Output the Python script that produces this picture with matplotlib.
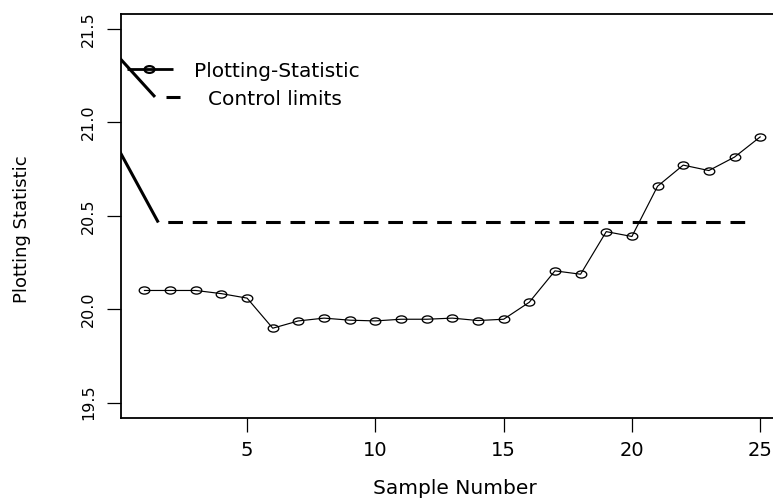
import numpy as np
import matplotlib
matplotlib.use("Agg")
import matplotlib.pyplot as plt
from matplotlib.path import Path
from matplotlib.transforms import Affine2D

# Данные графика
sample = list(range(1, 26))
stat = [20.100, 20.100, 20.100, 20.083, 20.059, 19.898, 19.937, 19.952, 19.941, 19.937,
        19.946, 19.946, 19.952, 19.939, 19.946, 20.037, 20.205, 20.187, 20.415, 20.389,
        20.658, 20.771, 20.742, 20.814, 20.922]

# Контрольные границы
limit_x = [1.54, 24.5]
limit_y = [20.464, 20.464]
start_x = [0.0, 1.54]
start_y = [20.853, 20.464]
upper_x = [0.0, 1.41]
upper_y = [21.349, 21.136]

xticks = [5, 10, 15, 20, 25]
yticks = [19.5, 20.0, 20.5, 21.0, 21.5]
ytick_labels = ["19.5", "20.0", "20.5", "21.0", "21.5"]

plt.rcParams['font.family'] = ['DejaVu Sans']

W, H = 773, 501
fig = plt.figure(figsize=(W / 100, H / 100), dpi=100)
# оси до правого края картинки, правой рамки не видно
left, right, top, bottom = 121, 773, 14, 417.5
ax = fig.add_axes([left / W, 1 - bottom / H, (right - left) / W, (bottom - top) / H])

# эллиптический маркер (картинка растянута по горизонтали)
ell = Path.unit_circle().transformed(Affine2D().scale(1, 0.68))

ax.plot(sample, stat, '-', color='black', lw=0.85, marker=ell, ms=7.6,
        mfc='none', mec='black', mew=0.95)
ax.plot(limit_x, limit_y, color='black', lw=2.2, linestyle=(4.8, (4.8, 3.2)),
        dash_capstyle='butt')
ax.plot(start_x, start_y, color='black', lw=2.2, solid_capstyle='butt')
ax.plot(upper_x, upper_y, color='black', lw=2.2, solid_capstyle='butt')

ax.set_xlim(0.085, 25.5)
ax.set_ylim(19.42, 21.58)
ax.set_xticks(xticks)
ax.set_yticks(yticks)
ax.set_yticklabels(ytick_labels)

for s in ax.spines.values():
    s.set_linewidth(1.3)
ax.spines['right'].set_visible(False)
ax.tick_params(axis='both', direction='out', length=10, width=0.9, color='black')
ax.tick_params(axis='x', labelsize=14, pad=7)
ax.tick_params(axis='y', labelsize=11.5, pad=8, labelrotation=90)
for lab in ax.get_yticklabels():
    lab.set_va('center')

# подписи осей (центр по полной ширине рамки 0.04..25.96)
ax.set_xlabel('Sample Number', fontsize=14.5)
ax.xaxis.label.set_va('center')
ax.xaxis.set_label_coords((454.5 - left) / (right - left), -0.177)
ax.set_ylabel('Plotting Statistic', fontsize=13)
ax.yaxis.label.set_va('center')
ax.yaxis.set_label_coords((22 - left) / (right - left), 0.467)

# легенда без рамки
def fx(px):
    return (px - left) / (right - left)

def fy(py):
    return (bottom - py) / (bottom - top)

tr = ax.transAxes
ax.plot([fx(127), fx(172.7)], [fy(69.3), fy(69.3)], color='black', lw=2.0, transform=tr,
        clip_on=False, solid_capstyle='butt')
ax.plot([fx(149)], [fy(69.3)], transform=tr, marker=ell, ms=7.2, mfc='none', mec='black',
        mew=1.6, clip_on=False)
ax.plot([fx(165.7), fx(180)], [fy(97.3), fy(97.3)], color='black', lw=2.2, transform=tr,
        clip_on=False, solid_capstyle='butt')
ax.text(fx(194), fy(76.7), 'Plotting-Statistic', transform=tr, fontsize=14.5,
        ha='left', va='baseline')
ax.text(fx(208.3), fy(105.3), 'Control limits', transform=tr, fontsize=14.5,
        ha='left', va='baseline')

fig.savefig('out.png', dpi=100)
